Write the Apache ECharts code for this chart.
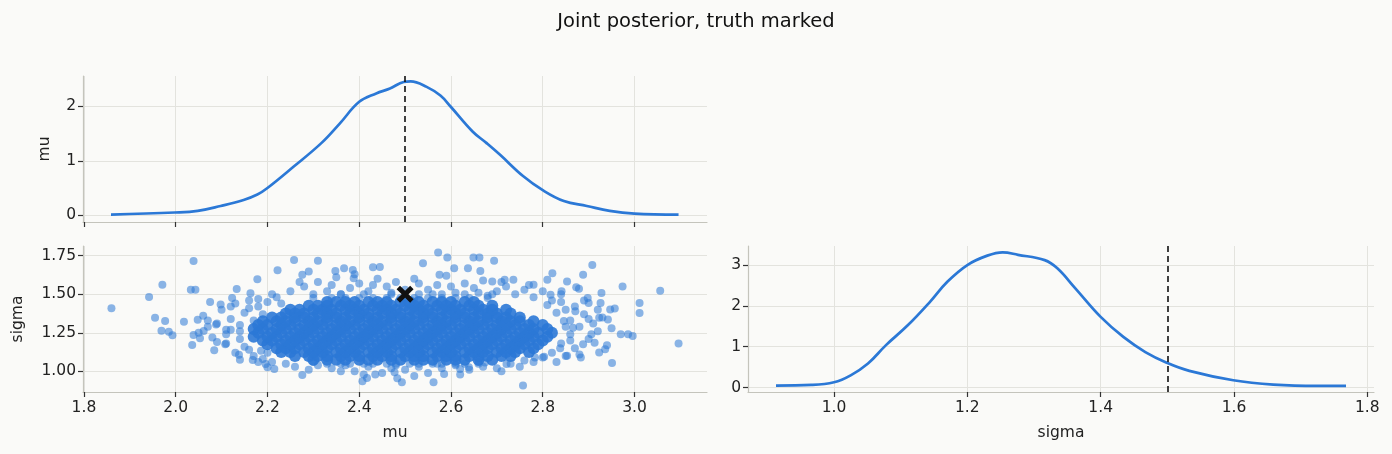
<!DOCTYPE html>
<html>
<head>
<meta charset="utf-8">
<script src="https://cdn.jsdelivr.net/npm/echarts@6/dist/echarts.min.js"></script>
<style>
  html, body { margin: 0; padding: 0; background: #fafaf8; }
  #chart { width: 1392px; height: 454px; }
</style>
</head>
<body>
<div id="chart"></div>
<script>
// values
const truthMu = 2.5;
const truthSigma = 1.5;

// marginal density of mu: [mu, density]
const muKde = [
  [1.859, 0.012], [1.998, 0.05], [2.048, 0.08], [2.098, 0.17], [2.148, 0.28],
  [2.178, 0.38], [2.2, 0.5], [2.258, 0.9], [2.318, 1.33], [2.358, 1.69],
  [2.4, 2.085], [2.437, 2.24], [2.467, 2.33], [2.497, 2.45], [2.512, 2.46],
  [2.547, 2.36], [2.577, 2.2], [2.6, 1.99], [2.647, 1.54], [2.677, 1.33],
  [2.707, 1.11], [2.757, 0.72], [2.8, 0.46], [2.846, 0.26], [2.896, 0.17],
  [2.946, 0.08], [3.0, 0.03], [3.096, 0.012]
];

// marginal density of sigma: [sigma, density]
const sigmaKde = [
  [0.913, 0.05], [0.966, 0.065], [1.0, 0.13], [1.025, 0.3], [1.051, 0.59],
  [1.078, 1.04], [1.111, 1.53], [1.144, 2.1], [1.17, 2.59], [1.2, 3.0],
  [1.23, 3.23], [1.253, 3.31], [1.276, 3.25], [1.316, 3.12], [1.335, 2.92],
  [1.362, 2.43], [1.4, 1.73], [1.434, 1.24], [1.467, 0.87], [1.499, 0.61],
  [1.533, 0.41], [1.599, 0.18], [1.659, 0.074], [1.725, 0.04], [1.768, 0.04]
];

// solid core of the joint draws: one row per sigma level, mu values along it
const coreRows = [
  [1.075, [2.30, 2.33, 2.35, 2.37, 2.40, 2.42, 2.44, 2.47, 2.49, 2.52, 2.54, 2.56, 2.59, 2.61, 2.63, 2.66, 2.69]],
  [1.100, [2.26, 2.29, 2.31, 2.33, 2.36, 2.38, 2.40, 2.43, 2.45, 2.47, 2.50, 2.52, 2.54, 2.57, 2.59, 2.61, 2.64, 2.66, 2.68, 2.71, 2.73]],
  [1.125, [2.23, 2.25, 2.28, 2.30, 2.32, 2.35, 2.37, 2.39, 2.42, 2.44, 2.46, 2.49, 2.51, 2.53, 2.56, 2.58, 2.60, 2.63, 2.65, 2.67, 2.70, 2.72, 2.74, 2.77]],
  [1.150, [2.22, 2.24, 2.26, 2.29, 2.31, 2.33, 2.36, 2.38, 2.40, 2.43, 2.45, 2.47, 2.50, 2.52, 2.54, 2.57, 2.59, 2.61, 2.64, 2.66, 2.68, 2.71, 2.73, 2.75, 2.78]],
  [1.175, [2.20, 2.23, 2.25, 2.27, 2.30, 2.32, 2.34, 2.37, 2.39, 2.41, 2.44, 2.46, 2.48, 2.51, 2.53, 2.55, 2.58, 2.60, 2.62, 2.65, 2.67, 2.69, 2.72, 2.74, 2.76, 2.79]],
  [1.200, [2.19, 2.21, 2.24, 2.26, 2.28, 2.31, 2.33, 2.35, 2.38, 2.40, 2.42, 2.45, 2.47, 2.49, 2.52, 2.54, 2.56, 2.59, 2.61, 2.63, 2.66, 2.68, 2.70, 2.73, 2.75, 2.77, 2.80]],
  [1.225, [2.17, 2.20, 2.22, 2.25, 2.27, 2.29, 2.32, 2.34, 2.36, 2.39, 2.41, 2.43, 2.46, 2.48, 2.50, 2.53, 2.55, 2.57, 2.60, 2.62, 2.64, 2.67, 2.69, 2.71, 2.74, 2.76, 2.78, 2.81]],
  [1.250, [2.18, 2.21, 2.23, 2.26, 2.28, 2.30, 2.33, 2.35, 2.37, 2.40, 2.42, 2.44, 2.47, 2.49, 2.51, 2.54, 2.56, 2.58, 2.61, 2.63, 2.65, 2.68, 2.70, 2.72, 2.75, 2.77, 2.79, 2.82]],
  [1.275, [2.17, 2.19, 2.22, 2.24, 2.27, 2.29, 2.31, 2.34, 2.36, 2.38, 2.41, 2.43, 2.45, 2.48, 2.50, 2.52, 2.55, 2.57, 2.59, 2.62, 2.64, 2.66, 2.69, 2.71, 2.73, 2.76, 2.78, 2.81]],
  [1.300, [2.18, 2.20, 2.23, 2.25, 2.28, 2.30, 2.32, 2.35, 2.37, 2.39, 2.42, 2.44, 2.46, 2.49, 2.51, 2.53, 2.56, 2.58, 2.60, 2.63, 2.65, 2.67, 2.70, 2.72, 2.74, 2.77, 2.80]],
  [1.325, [2.19, 2.22, 2.24, 2.26, 2.29, 2.31, 2.33, 2.36, 2.38, 2.40, 2.43, 2.45, 2.47, 2.50, 2.52, 2.54, 2.57, 2.59, 2.61, 2.64, 2.66, 2.68, 2.71, 2.73, 2.75, 2.78]],
  [1.350, [2.21, 2.23, 2.26, 2.28, 2.30, 2.33, 2.35, 2.37, 2.40, 2.42, 2.44, 2.47, 2.49, 2.51, 2.54, 2.56, 2.58, 2.61, 2.63, 2.65, 2.68, 2.70, 2.72, 2.75]],
  [1.375, [2.24, 2.26, 2.28, 2.31, 2.33, 2.35, 2.38, 2.40, 2.42, 2.45, 2.47, 2.49, 2.52, 2.54, 2.56, 2.59, 2.61, 2.63, 2.66, 2.68, 2.70, 2.73]],
  [1.400, [2.25, 2.27, 2.30, 2.32, 2.34, 2.37, 2.39, 2.41, 2.44, 2.46, 2.48, 2.51, 2.53, 2.55, 2.58, 2.60, 2.62, 2.65, 2.67, 2.69, 2.72]],
  [1.425, [2.29, 2.31, 2.33, 2.36, 2.38, 2.40, 2.43, 2.45, 2.47, 2.50, 2.52, 2.54, 2.57, 2.59, 2.61, 2.64, 2.66, 2.69]],
  [1.450, [2.33, 2.35, 2.37, 2.39, 2.42, 2.44, 2.46, 2.49, 2.51, 2.53, 2.56, 2.58, 2.60, 2.63, 2.65]]
];

// thinner rows at the top and bottom edge of the core
const fringeRows = [
  [1.050, [2.33, 2.36, 2.38, 2.41, 2.43, 2.46, 2.48, 2.51, 2.53, 2.56, 2.58, 2.61, 2.63, 2.66]],
  [1.475, [2.30, 2.34, 2.37, 2.40, 2.43, 2.46, 2.49, 2.52, 2.55, 2.58, 2.61, 2.64, 2.68]],
  [1.500, [2.30, 2.36, 2.41, 2.47, 2.53, 2.58, 2.63, 2.69]]
];

// thinner ring of draws round the core: [mu, sigma]
const ringPts = [
  [2.06, 1.36], [2.08, 1.22], [2.09, 1.31], [2.10, 1.40], [2.11, 1.18], [2.12, 1.27], [2.12, 1.34],
  [2.13, 1.44], [2.14, 1.21], [2.14, 1.30], [2.15, 1.38], [2.13, 1.12], [2.16, 1.46], [2.17, 1.10],
  [2.11, 1.24], [2.07, 1.29], [2.05, 1.25], [2.15, 1.16], [2.18, 1.42], [2.19, 1.08], [2.20, 1.45],
  [2.21, 1.06], [2.22, 1.48], [2.19, 1.37], [2.17, 1.33], [2.20, 1.12],
  [2.84, 1.18], [2.85, 1.40], [2.86, 1.24], [2.86, 1.33], [2.87, 1.15], [2.88, 1.29], [2.89, 1.37],
  [2.90, 1.21], [2.91, 1.31], [2.92, 1.26], [2.93, 1.35], [2.94, 1.17], [2.84, 1.45], [2.85, 1.10],
  [2.87, 1.42], [2.82, 1.12], [2.83, 1.38], [2.81, 1.43], [2.80, 1.09], [2.95, 1.28], [2.97, 1.24],
  [2.25, 1.52], [2.28, 1.55], [2.31, 1.58], [2.33, 1.52], [2.35, 1.61], [2.38, 1.54], [2.40, 1.57],
  [2.42, 1.52], [2.44, 1.60], [2.46, 1.55], [2.48, 1.58], [2.52, 1.60], [2.55, 1.53], [2.57, 1.56],
  [2.59, 1.62], [2.61, 1.51], [2.63, 1.57], [2.65, 1.54], [2.67, 1.59], [2.70, 1.52], [2.72, 1.55],
  [2.74, 1.50], [2.76, 1.53], [2.78, 1.48], [2.36, 1.50], [2.50, 1.53], [2.56, 1.50], [2.68, 1.49],
  [2.26, 1.03], [2.29, 1.01], [2.31, 1.04], [2.34, 1.02], [2.37, 1.04], [2.39, 1.00], [2.42, 1.03],
  [2.45, 0.99], [2.47, 1.02], [2.50, 1.01], [2.53, 1.03], [2.55, 0.99], [2.58, 1.02], [2.61, 1.04],
  [2.64, 1.01], [2.67, 1.03], [2.70, 1.02], [2.73, 1.05], [2.75, 1.03], [2.24, 1.05], [2.78, 1.06],
  [2.16, 1.41], [2.18, 1.47], [2.21, 1.50], [2.23, 1.44], [2.14, 1.26], [2.16, 1.14], [2.18, 1.06],
  [2.09, 1.19], [2.07, 1.33], [2.12, 1.42], [2.82, 1.46], [2.84, 1.50], [2.80, 1.52], [2.86, 1.20],
  [2.88, 1.11], [2.83, 1.06], [2.90, 1.34], [2.92, 1.40], [2.89, 1.46], [2.85, 1.29], [2.27, 1.58],
  [2.34, 1.56], [2.43, 1.56], [2.47, 1.51], [2.53, 1.57], [2.60, 1.55], [2.66, 1.51], [2.71, 1.58],
  [2.77, 1.56], [2.39, 1.63], [2.30, 1.06], [2.36, 1.00], [2.41, 0.98], [2.48, 1.04], [2.52, 0.97],
  [2.57, 1.05], [2.62, 0.98], [2.66, 1.06], [2.71, 1.00], [2.76, 1.07]
];

// isolated outlying draws: [mu, sigma]
const tailPts = [
  [1.86, 1.41], [1.942, 1.482], [1.971, 1.561], [1.955, 1.347], [1.977, 1.326], [1.969, 1.263],
  [1.985, 1.257], [1.993, 1.234], [2.018, 1.321], [2.033, 1.529], [2.043, 1.529], [2.039, 1.716],
  [2.036, 1.171], [2.039, 1.236], [2.053, 1.214], [2.048, 1.334], [2.061, 1.261], [2.075, 1.45],
  [2.084, 1.137], [2.088, 1.304], [2.098, 1.433], [2.108, 1.176], [2.11, 1.27], [2.123, 1.476],
  [2.133, 1.534], [2.138, 1.107], [2.14, 1.075], [2.163, 1.506], [2.168, 1.073], [2.178, 1.598],
  [2.186, 1.133], [2.196, 1.047], [2.2, 1.026], [2.215, 1.015], [2.222, 1.656], [2.258, 1.722],
  [2.276, 0.977], [2.276, 1.626], [2.29, 1.647], [2.31, 1.718], [2.348, 1.651], [2.367, 1.668],
  [2.386, 1.657], [2.388, 1.604], [2.407, 0.936], [2.417, 0.957], [2.43, 1.675], [2.445, 1.677],
  [2.435, 0.979], [2.483, 0.955], [2.493, 0.929], [2.477, 0.994], [2.539, 1.701], [2.562, 0.929],
  [2.572, 1.771], [2.585, 0.983], [2.592, 1.739], [2.575, 1.626], [2.607, 1.668], [2.637, 1.668],
  [2.649, 1.739], [2.662, 1.739], [2.664, 1.651], [2.694, 1.718], [2.69, 1.583], [2.717, 1.594],
  [2.736, 1.594], [2.62, 1.015], [2.639, 1.026], [2.674, 1.058], [2.721, 1.047], [2.757, 0.908],
  [2.78, 1.561], [2.81, 1.594], [2.821, 1.636], [2.853, 1.583], [2.873, 1.546], [2.879, 1.536],
  [2.888, 1.626], [2.908, 1.69], [2.928, 1.508], [2.898, 1.476], [2.9, 1.444], [2.926, 1.444],
  [2.923, 1.347], [2.942, 1.336], [2.947, 1.401], [2.957, 1.407], [2.974, 1.551], [2.986, 1.24],
  [2.996, 1.229], [3.011, 1.444], [3.011, 1.379], [3.056, 1.523], [3.096, 1.18], [2.951, 1.054],
  [2.936, 1.144], [2.923, 1.122], [2.913, 1.186], [2.888, 1.176], [2.883, 1.09], [2.853, 1.101],
  [2.838, 1.15], [2.803, 1.094], [2.783, 1.09], [2.906, 1.24], [2.866, 1.283], [2.846, 1.326],
  [2.871, 1.39], [2.817, 1.497], [2.841, 1.519]
];

// tick positions
const muTicks = [1.8, 2.0, 2.2, 2.4, 2.6, 2.8, 3.0];
const sigmaScatterTicks = [1.0, 1.25, 1.5, 1.75];
const sigmaTicks = [1.0, 1.2, 1.4, 1.6, 1.8];
const muDensTicks = [0, 1, 2];
const sigmaDensTicks = [0, 1, 2, 3];

const BLUE = "#2b78d6";
const FONT = "DejaVu Sans";
const SPINE = "#c4c4bc";
const GRIDLINE = "#e3e3de";

// scatter points built from the arrays above
const rowsToPts = (rows) => {
  const out = [];
  rows.forEach(([s, mus]) => mus.forEach((m) => out.push([m, s])));
  return out;
};
const corePts = rowsToPts(coreRows);
const loosePts = rowsToPts(fringeRows).concat(ringPts, tailPts);

function xAx(grid, min, max, ticks, showLabels, digits, name) {
  return {
    type: "value", gridIndex: grid, min: min, max: max,
    name: name || "", nameLocation: "middle", nameGap: 33,
    nameTextStyle: { fontFamily: FONT, fontSize: 15.5, color: "#222" },
    axisLine: { show: true, onZero: false, lineStyle: { color: SPINE, width: 1.2 } },
    axisTick: { show: true, customValues: ticks, length: 5, lineStyle: { color: "#333", width: 1.2 } },
    axisLabel: {
      show: showLabels, customValues: ticks, margin: 8,
      fontFamily: FONT, fontSize: 15.5, color: "#222",
      formatter: (v) => Number(v).toFixed(digits),
    },
    splitLine: { show: true, lineStyle: { color: GRIDLINE, width: 1 } },
  };
}

function yAx(grid, min, max, ticks, digits, name, gap) {
  return {
    type: "value", gridIndex: grid, min: min, max: max,
    name: name || "", nameLocation: "middle", nameGap: gap || 30,
    nameTextStyle: { fontFamily: FONT, fontSize: 15.5, color: "#222" },
    axisLine: { show: true, onZero: false, lineStyle: { color: SPINE, width: 1.2 } },
    axisTick: { show: true, customValues: ticks, length: 5, lineStyle: { color: "#333", width: 1.2 } },
    axisLabel: {
      show: true, customValues: ticks, margin: 7,
      fontFamily: FONT, fontSize: 15.5, color: "#222",
      formatter: (v) => Number(v).toFixed(digits),
    },
    splitLine: { show: true, lineStyle: { color: GRIDLINE, width: 1 } },
  };
}

const truthLine = (v) => ({
  silent: true, symbol: "none", animation: false,
  label: { show: false },
  lineStyle: { color: "#111", type: [6, 4], width: 1.6 },
  data: [{ xAxis: v }],
});

const chart = echarts.init(document.getElementById("chart"));
chart.setOption({
  backgroundColor: "#fafaf8",
  animation: false,
  title: {
    text: "Joint posterior, truth marked", left: "center", top: 7,
    textStyle: { fontFamily: FONT, fontSize: 19.5, fontWeight: "normal", color: "#111" },
  },
  grid: [
    { left: 83, top: 76, width: 624, height: 146 },
    { left: 83, top: 246, width: 624, height: 146 },
    { left: 748, top: 246, width: 626, height: 146 },
  ],
  xAxis: [
    xAx(0, 1.798, 3.158, muTicks, false, 1),
    xAx(1, 1.798, 3.158, muTicks, true, 1, "mu"),
    xAx(2, 0.871, 1.81, sigmaTicks, true, 1, "sigma"),
  ],
  yAxis: [
    yAx(0, -0.125, 2.56, muDensTicks, 0, "mu", 30),
    yAx(1, 0.866, 1.813, sigmaScatterTicks, 2, "sigma", 57),
    yAx(2, -0.108, 3.466, sigmaDensTicks, 0),
  ],
  series: [
    {
      type: "line", xAxisIndex: 0, yAxisIndex: 0, data: muKde,
      smooth: 0.4, showSymbol: false, lineStyle: { color: BLUE, width: 2.7 },
      markLine: truthLine(truthMu),
    },
    {
      type: "scatter", xAxisIndex: 1, yAxisIndex: 1, data: loosePts,
      symbolSize: 8, itemStyle: { color: BLUE, opacity: 0.55 },
    },
    {
      type: "scatter", xAxisIndex: 1, yAxisIndex: 1, data: corePts,
      symbolSize: 12, itemStyle: { color: BLUE, opacity: 0.9 },
    },
    {
      type: "scatter", xAxisIndex: 1, yAxisIndex: 1, z: 5,
      data: [[truthMu, truthSigma]],
      symbol: "path://M0,2 L2,0 L5,3 L8,0 L10,2 L7,5 L10,8 L8,10 L5,7 L2,10 L0,8 L3,5 Z",
      symbolSize: 17, itemStyle: { color: "#111", opacity: 1 },
    },
    {
      type: "line", xAxisIndex: 2, yAxisIndex: 2, data: sigmaKde,
      smooth: 0.4, showSymbol: false, lineStyle: { color: BLUE, width: 2.7 },
      markLine: truthLine(truthSigma),
    },
  ],
});
</script>
</body>
</html>
